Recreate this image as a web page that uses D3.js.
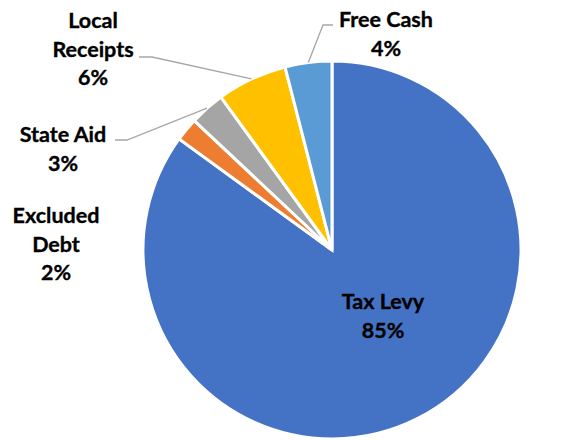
<!DOCTYPE html>
<html>
<head>
<meta charset="utf-8">
<script src="https://cdn.jsdelivr.net/npm/d3@7"></script>
<style>
  html, body { margin: 0; padding: 0; background: #fff; }
  svg { display: block; }
  text { font-family: Lato, Carlito, Calibri, "Open Sans", sans-serif; font-weight: 700; fill: #000; stroke: #000; stroke-width: 0.35px; }
</style>
</head>
<body>
<svg id="chart" width="579" height="440"></svg>
<script>
// Budget revenue sources (share of total, %)
const categories = ["Tax Levy", "Excluded Debt", "State Aid", "Local Receipts", "Free Cash"];
const values = [85, 2, 3, 6, 4];
const labelLines = [["Tax Levy"], ["Excluded", "Debt"], ["State Aid"], ["Local", "Receipts"], ["Free Cash"]];
const colors = ["#4472C4", "#ED7D31", "#A5A5A5", "#FFC000", "#5B9BD5"];

const width = 579, height = 440;
const cx = 332, cy = 250, radius = 189;
const fontSize = 21.5, lineGap = 28.7;

// Label placement: centre x and baseline of first line; leader elbow/end when drawn
const labelLayout = {
  "Tax Levy":       { x: 383, y: 309, leader: null },
  "Excluded Debt":  { x: 56,  y: 223, leader: null },
  "State Aid":      { x: 63,  y: 142, leader: { elbow: [127, 140], end: [115, 140] } },
  "Local Receipts": { x: 93,  y: 28,  leader: { elbow: [152, 57],  end: [139, 57] } },
  "Free Cash":      { x: 386, y: 27,  leader: { elbow: [323, 25],  end: [333, 25] } }
};

const data = categories.map((c, i) => ({ category: c, value: values[i], lines: labelLines[i], color: colors[i] }));

const svg = d3.select("#chart");
const g = svg.append("g").attr("transform", `translate(${cx},${cy})`);

const pie = d3.pie().value(d => d.value).sort(null).startAngle(0).endAngle(2 * Math.PI);
const arcs = pie(data);
const arc = d3.arc().innerRadius(0).outerRadius(radius);

g.selectAll("path.slice")
  .data(arcs)
  .join("path")
  .attr("class", "slice")
  .attr("d", arc)
  .attr("fill", d => d.data.color)
  .attr("stroke", "#fff")
  .attr("stroke-width", 3)
  .attr("stroke-linejoin", "miter");

// Leader lines from slice edge at mid-angle
arcs.forEach(a => {
  const lay = labelLayout[a.data.category];
  if (!lay.leader) return;
  const mid = (a.startAngle + a.endAngle) / 2;
  const sx = cx + radius * Math.sin(mid);
  const sy = cy - radius * Math.cos(mid);
  svg.append("polyline")
    .attr("points", [[sx, sy], lay.leader.elbow, lay.leader.end].map(p => p.join(",")).join(" "))
    .attr("fill", "none")
    .attr("stroke", "#A6A6A6")
    .attr("stroke-width", 1.3);
});

// Category and percentage labels
arcs.forEach(a => {
  const lay = labelLayout[a.data.category];
  const lines = a.data.lines.concat([d3.format(".0f")(a.data.value) + "%"]);
  const t = svg.append("text")
    .attr("text-anchor", "middle")
    .attr("font-size", fontSize);
  lines.forEach((s, i) => {
    t.append("tspan").attr("x", lay.x).attr("y", lay.y + i * lineGap).text(s);
  });
});
</script>
</body>
</html>
